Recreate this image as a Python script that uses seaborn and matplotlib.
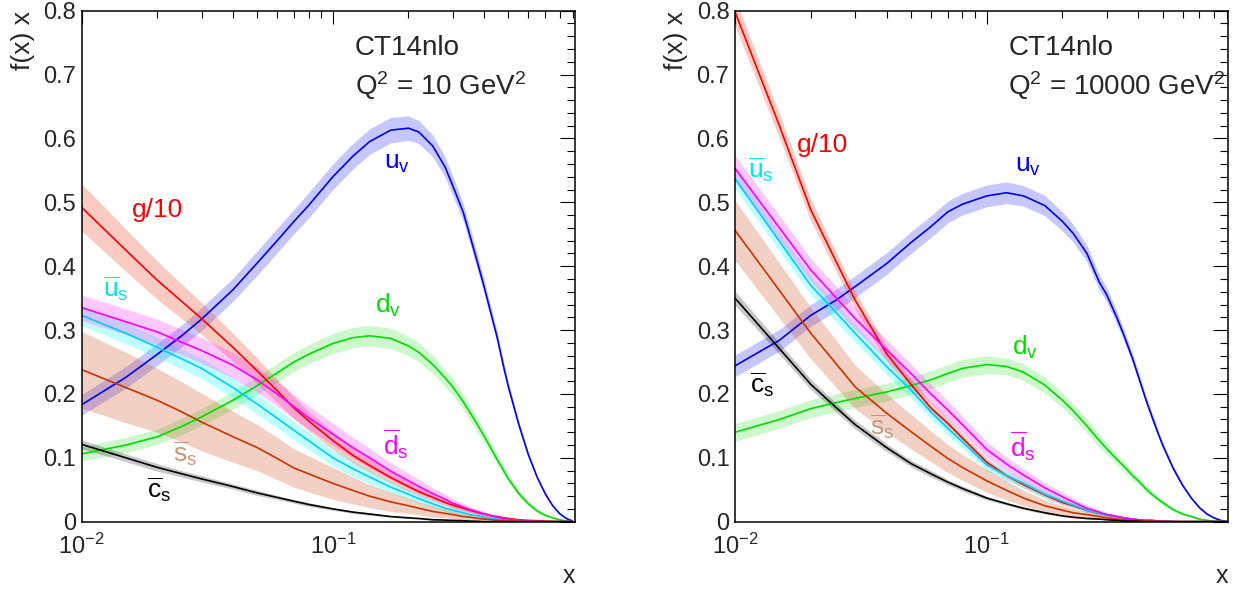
import matplotlib
matplotlib.use("Agg")
import matplotlib.pyplot as plt
from matplotlib.ticker import MultipleLocator, LogLocator, LogFormatterMathtext, NullFormatter, FuncFormatter
import pandas as pd
import seaborn as sns

# x grid shared by all curves
x_grid = [0.01, 0.015, 0.02, 0.025, 0.03, 0.04, 0.05, 0.06, 0.07, 0.08,
          0.1, 0.12, 0.14, 0.17, 0.2, 0.22, 0.25, 0.28, 0.3, 0.33,
          0.35, 0.38, 0.4, 0.43, 0.45, 0.48, 0.5, 0.55, 0.6, 0.65,
          0.7, 0.75, 0.8, 0.85, 0.9]

# Q^2 = 10 GeV^2  (central value, half-width of the error band)
uv_q10 = [.183, .226, .262, .291, .317, .363, .405, .44, .47, .495,
          .54, .572, .595, .613, .616, .61, .588, .555, .526, .485,
          .45, .40, .368, .32, .29, .24, .211, .152, .105, .07,
          .044, .025, .0125, .005, .001]
uv_q10_err = [.016, .017, .017, .017, .018, .018, .019, .019, .019, .02,
              .02, .02, .02, .02, .019, .018, .017, .016, .015, .014,
              .013, .012, .011, .01, .009, .008, .007, .005, .004, .003,
              .002, .0015, .001, .0005, 0]
dv_q10 = [.106, .12, .133, .149, .164, .19, .213, .233, .25, .262,
          .279, .288, .291, .287, .275, .265, .246, .225, .211, .188,
          .172, .149, .134, .112, .098, .079, .067, .044, .028, .017,
          .01, .006, .003, .001, 0]
dv_q10_err = [.011, .012, .012, .013, .013, .014, .014, .015, .015, .015,
              .016, .016, .016, .016, .015, .015, .014, .013, .013, .012,
              .012, .011, .01, .009, .008, .007, .006, .005, .004, .003,
              .002, .001, .001, .0005, 0]
g_q10 = [.492, .425, .378, .345, .318, .273, .236, .205, .178, .158,
         .127, .104, .088, .069, .055, .047, .038, .03, .026, .021,
         .018, .014, .012, .009, .008, .006, .005, .003, .002, .0015,
         .001, .0005, 0, 0, 0]
g_q10_err = [.037, .033, .03, .027, .025, .022, .02, .018, .017, .015,
             .014, .012, .011, .009, .008, .007, .006, .005, .005, .004,
             .004, .003, .003, .002, .002, .002, .002, .001, .001, .0005,
             0, 0, 0, 0, 0]
ubar_q10 = [.323, .295, .273, .255, .24, .21, .184, .162, .143, .127,
            .1, .083, .07, .054, .043, .036, .028, .021, .018, .014,
            .011, .009, .007, .005, .004, .003, .002, .001, .0005, 0,
            0, 0, 0, 0, 0]
ubar_q10_err = [.016, .016, .016, .016, .016, .016, .016, .015, .015, .014,
                .013, .012, .011, .009, .008, .007, .006, .005, .005, .004,
                .004, .003, .003, .002, .002, .001, .001, .001, 0, 0,
                0, 0, 0, 0, 0]
dbar_q10 = [.335, .313, .297, .281, .268, .245, .222, .2, .18, .163,
            .137, .116, .1, .079, .064, .055, .044, .035, .029, .023,
            .019, .015, .012, .009, .007, .005, .004, .002, .001, .0005,
            0, 0, 0, 0, 0]
dbar_q10_err = [.02, .02, .02, .02, .02, .02, .02, .019, .019, .018,
                .017, .016, .015, .013, .012, .011, .009, .008, .007, .006,
                .005, .004, .004, .003, .003, .002, .002, .001, .001, 0,
                0, 0, 0, 0, 0]
sbar_q10 = [.238, .21, .19, .172, .156, .133, .116, .099, .084, .075,
            .06, .049, .04, .031, .025, .021, .016, .013, .011, .008,
            .007, .005, .004, .003, .002, .0015, .001, .0005, 0, 0,
            0, 0, 0, 0, 0]
sbar_q10_err = [.06, .055, .05, .047, .045, .04, .036, .033, .03, .028,
                .025, .021, .018, .015, .012, .01, .009, .007, .006, .005,
                .004, .003, .003, .002, .002, .001, .001, 0, 0, 0,
                0, 0, 0, 0, 0]
cbar_q10 = [.121, .1, .085, .075, .067, .055, .045, .038, .032, .027,
            .02, .015, .012, .008, .006, .005, .003, .0025, .002, .0015,
            .001, .0005, 0, 0, 0, 0, 0, 0, 0, 0,
            0, 0, 0, 0, 0]
cbar_q10_err = [.007, .006, .006, .005, .005, .004, .004, .003, .003, .003,
                .002, .002, .002, .001, .001, .001, .001, 0, 0, 0,
                0, 0, 0, 0, 0, 0, 0, 0, 0, 0,
                0, 0, 0, 0, 0]

# Q^2 = 10000 GeV^2
uv_q1e4 = [.244, .284, .323, .346, .368, .404, .437, .462, .485, .497,
           .51, .515, .51, .495, .47, .452, .42, .375, .355, .318,
           .293, .255, .228, .19, .168, .138, .12, .084, .057, .037,
           .022, .012, .006, .002, .0005]
uv_q1e4_err = [.017, .017, .017, .017, .017, .017, .017, .017, .017, .017,
               .017, .017, .016, .016, .015, .014, .013, .012, .011, .01,
               .009, .008, .007, .006, .006, .005, .005, .004, .003, .002,
               .002, .001, .001, .0005, 0]
dv_q1e4 = [.14, .16, .177, .186, .193, .203, .213, .222, .232, .24,
           .246, .243, .234, .214, .19, .174, .15, .127, .114, .097,
           .087, .072, .064, .051, .044, .035, .03, .019, .012, .008,
           .004, .002, .001, .0005, 0]
dv_q1e4_err = [.014, .014, .014, .014, .014, .014, .014, .014, .014, .014,
               .014, .013, .013, .012, .012, .011, .011, .01, .009, .008,
               .008, .007, .006, .005, .005, .004, .004, .003, .002, .001,
               .001, .0005, 0, 0, 0]
g_q1e4 = [.798, .62, .488, .41, .347, .263, .215, .178, .154, .131,
          .093, .072, .058, .042, .03, .025, .018, .013, .011, .008,
          .006, .004, .003, .002, .002, .001, .001, .0005, 0, 0,
          0, 0, 0, 0, 0]
g_q1e4_err = [.022, .019, .017, .015, .014, .012, .01, .009, .008, .007,
              .006, .005, .005, .004, .004, .003, .003, .002, .002, .002,
              .002, .001, .001, .001, .001, .0005, 0, 0, 0, 0,
              0, 0, 0, 0, 0]
ubar_q1e4 = [.537, .439, .37, .329, .295, .243, .206, .172, .146, .125,
             .089, .072, .06, .043, .032, .026, .018, .013, .01, .008,
             .006, .004, .003, .002, .002, .001, .001, 0, 0, 0,
             0, 0, 0, 0, 0]
ubar_q1e4_err = [.016, .015, .015, .015, .014, .013, .012, .011, .011, .01,
                 .009, .008, .007, .006, .005, .004, .004, .003, .003, .002,
                 .002, .001, .001, .001, .001, 0, 0, 0, 0, 0,
                 0, 0, 0, 0, 0]
dbar_q1e4 = [.553, .46, .394, .352, .318, .269, .232, .2, .175, .152,
             .113, .09, .073, .053, .039, .031, .021, .015, .011, .008,
             .006, .004, .003, .002, .002, .001, .001, 0, 0, 0,
             0, 0, 0, 0, 0]
dbar_q1e4_err = [.02, .019, .018, .018, .017, .016, .015, .015, .014, .013,
                 .012, .011, .01, .008, .007, .006, .005, .004, .003, .003,
                 .002, .002, .001, .001, .001, 0, 0, 0, 0, 0,
                 0, 0, 0, 0, 0]
sbar_q1e4 = [.456, .362, .295, .249, .211, .17, .141, .118, .099, .085,
             .064, .049, .037, .025, .018, .014, .011, .008, .006, .004,
             .003, .002, .002, .001, .001, .0005, 0, 0, 0, 0,
             0, 0, 0, 0, 0]
sbar_q1e4_err = [.047, .043, .04, .037, .034, .03, .027, .024, .022, .02,
                 .018, .015, .012, .009, .007, .006, .005, .004, .003, .002,
                 .002, .001, .001, .001, 0, 0, 0, 0, 0, 0,
                 0, 0, 0, 0, 0]
cbar_q1e4 = [.35, .271, .215, .18, .152, .116, .091, .075, .062, .052,
             .037, .028, .021, .014, .009, .007, .005, .004, .003, .002,
             .001, .001, .0005, 0, 0, 0, 0, 0, 0, 0,
             0, 0, 0, 0, 0]
cbar_q1e4_err = [.011, .009, .008, .007, .007, .006, .005, .005, .004, .004,
                 .003, .002, .002, .002, .001, .001, .001, 0, 0, 0,
                 0, 0, 0, 0, 0, 0, 0, 0, 0, 0,
                 0, 0, 0, 0, 0]

panel_titles = ["Q$^{2}$ = 10 GeV$^{2}$", "Q$^{2}$ = 10000 GeV$^{2}$"]
pdf_names = ["uv", "dv", "g", "ubar", "dbar", "sbar", "cbar"]
pdf_labels = {"uv": "$u_{v}$", "dv": "$d_{v}$", "g": "g/10",
              "ubar": r"$\overline{u}_{s}$", "dbar": r"$\overline{d}_{s}$",
              "sbar": r"$\overline{s}_{s}$", "cbar": r"$\overline{c}_{s}$"}

panels = [
    {"uv": (uv_q10, uv_q10_err), "dv": (dv_q10, dv_q10_err), "g": (g_q10, g_q10_err),
     "ubar": (ubar_q10, ubar_q10_err), "dbar": (dbar_q10, dbar_q10_err),
     "sbar": (sbar_q10, sbar_q10_err), "cbar": (cbar_q10, cbar_q10_err)},
    {"uv": (uv_q1e4, uv_q1e4_err), "dv": (dv_q1e4, dv_q1e4_err), "g": (g_q1e4, g_q1e4_err),
     "ubar": (ubar_q1e4, ubar_q1e4_err), "dbar": (dbar_q1e4, dbar_q1e4_err),
     "sbar": (sbar_q1e4, sbar_q1e4_err), "cbar": (cbar_q1e4, cbar_q1e4_err)},
]

rows = []
for i, series in enumerate(panels):
    for name, (vals, errs) in series.items():
        for xv, v, e in zip(x_grid, vals, errs):
            rows.append({"panel": i, "pdf": name, "x": xv, "value": v, "err": e})
df = pd.DataFrame(rows)

# styling
line_colors = {"uv": "#0000ee", "dv": "#00dd00", "g": "#ff0000", "ubar": "#00ccff",
               "dbar": "#ff00ff", "sbar": "#cc3300", "cbar": "#000000"}
band_colors = {"uv": ("#0000ff", 0.22), "dv": ("#00dd00", 0.2), "g": ("#ee3311", 0.25),
               "ubar": ("#00ffff", 0.25), "dbar": ("#ff00ff", 0.22),
               "sbar": ("#cc4411", 0.25), "cbar": ("#000000", 0.22)}
text_colors = {"uv": "#0000ff", "dv": "#00dd00", "g": "#ff0000", "ubar": "#00e5ee",
               "dbar": "#ff00ff", "sbar": "#c8967d", "cbar": "#000000"}
label_pos = [
    {"uv": (0.16, 0.553), "dv": (0.147, 0.327), "g": (0.0158, 0.477), "ubar": (0.0122, 0.352),
     "dbar": (0.158, 0.104), "sbar": (0.0231, 0.093), "cbar": (0.0182, 0.037)},
    {"uv": (0.13, 0.547), "dv": (0.126, 0.261), "g": (0.0176, 0.579), "ubar": (0.0113, 0.539),
     "dbar": (0.124, 0.102), "sbar": (0.0344, 0.136), "cbar": (0.0115, 0.201)},
]
x_max = [0.92, 0.91]

sns.set_style("white")
plt.rcParams["font.family"] = ["Liberation Sans", "DejaVu Sans"]
plt.rcParams["mathtext.fontset"] = "custom"
plt.rcParams["mathtext.rm"] = "Liberation Sans"
plt.rcParams["mathtext.it"] = "Liberation Sans:italic"
plt.rcParams["mathtext.default"] = "regular"

fig = plt.figure(figsize=(12.41, 5.90), dpi=100)
axes = [fig.add_axes([0.0658, 0.1158, 0.3975, 0.8661]),
        fig.add_axes([0.5923, 0.1158, 0.3973, 0.8661])]

for i, ax in enumerate(axes):
    sub = df[df["panel"] == i]
    ax.set_xscale("log")
    for name in pdf_names:
        s = sub[sub["pdf"] == name]
        c, a = band_colors[name]
        ax.fill_between(s["x"], s["value"] - s["err"], s["value"] + s["err"],
                        color=c, alpha=a, linewidth=0, zorder=1)
    sns.lineplot(data=sub, x="x", y="value", hue="pdf", hue_order=pdf_names,
                 palette=line_colors, estimator=None, sort=False, legend=False,
                 linewidth=1.2, ax=ax, zorder=2)
    ax.set_xlabel("")
    ax.set_ylabel("")
    ax.set_xlim(0.01, x_max[i])
    ax.set_ylim(0, 0.8)

    ax.yaxis.set_major_locator(MultipleLocator(0.1))
    ax.yaxis.set_minor_locator(MultipleLocator(0.02))
    ax.yaxis.set_major_formatter(FuncFormatter(lambda v, p: "0" if abs(v) < 1e-9 else f"{v:.1f}"))
    ax.xaxis.set_major_locator(LogLocator(base=10))
    ax.xaxis.set_minor_locator(LogLocator(base=10, subs=range(2, 10)))
    ax.xaxis.set_major_formatter(LogFormatterMathtext())
    ax.xaxis.set_minor_formatter(NullFormatter())

    ax.tick_params(axis="both", which="both", direction="in", top=True, right=True,
                   color="black", width=0.8)
    ax.tick_params(axis="y", which="major", length=10.5, labelsize=17, pad=4)
    ax.tick_params(axis="y", which="minor", length=6)
    ax.tick_params(axis="x", which="major", length=9, labelsize=17, pad=9)
    ax.tick_params(axis="x", which="minor", length=5)
    for sp in ax.spines.values():
        sp.set_linewidth(1.1)
        sp.set_color("black")

    for name in pdf_names:
        lx, ly = label_pos[i][name]
        ax.text(lx, ly, pdf_labels[name], color=text_colors[name], fontsize=19,
                ha="left", va="baseline", zorder=5)

    ax.text(0.554, 0.913, "CT14nlo", transform=ax.transAxes, fontsize=20,
            ha="left", va="baseline")
    ax.text(0.554, 0.835, panel_titles[i], transform=ax.transAxes, fontsize=20,
            ha="left", va="baseline")
    ax.text(-0.119, 1.0, "f(x) x", transform=ax.transAxes, rotation=90, fontsize=19,
            ha="center", va="top")
    ax.text(1.0, -0.12, "x", transform=ax.transAxes, fontsize=18,
            ha="right", va="baseline")

fig.savefig("out.png", dpi=100)
